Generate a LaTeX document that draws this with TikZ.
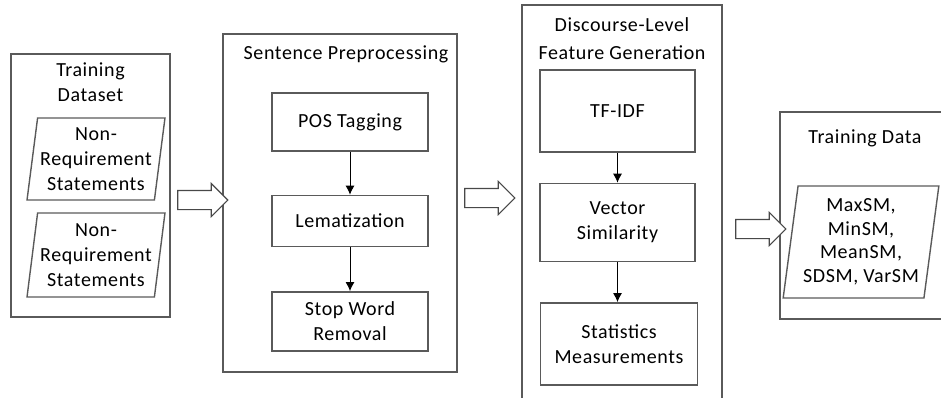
\documentclass[tikz,border=0pt]{standalone}
\usepackage{fontspec}
\setmainfont{Carlito}[LetterSpace=3]
\usetikzlibrary{positioning,shapes.geometric,shapes.arrows,arrows.meta}
\definecolor{boxgray}{RGB}{90,90,90}

\begin{document}
\begin{tikzpicture}[x=1pt,y=1pt,>={Latex[length=9pt,width=9pt]},
	font=\fontsize{20}{25}\selectfont,
	stage/.style={draw=boxgray,line width=1.1pt},
	title/.style={inner sep=0pt,align=center},
	task/.style={draw=boxgray,line width=1.4pt,minimum width=156pt,align=center,inner sep=2pt},
	datafile/.style={trapezium,trapezium left angle=81,trapezium right angle=99,trapezium stretches=true,draw=boxgray,line width=1.4pt,align=center,inner sep=1pt},
	bigarrow/.style={single arrow,draw=boxgray!80!black,fill=white,line width=1.1pt,minimum height=50pt,inner xsep=0pt,inner ysep=9pt,single arrow head extend=7pt}]
	
	\useasboundingbox (0,0) rectangle (941,397);
	\clip (0,0) rectangle (941,397);
	
	% stages
	\node[stage,minimum width=159pt,minimum height=263pt] (dataset) at (90.5,211.5) {};
	\node[stage,minimum width=234pt,minimum height=338pt] (prep) at (340,194) {};
	\node[stage,minimum width=200pt,minimum height=410pt] (feat) at (622,187) {};
	\node[stage,minimum width=200pt,minimum height=207pt] (train) at (880,181.5) {};
	
	\node[title,below=9pt of dataset.north] (dtitle) {Training\\Dataset};
	\node[title,below=12pt of prep.north,xshift=6pt] (ptitle) {Sentence Preprocessing};
	\node[title,below=13pt of feat.north,font=\fontsize{20}{28}\selectfont] (ftitle) {Discourse-Level\\Feature Generation};
	\node[title,below=18pt of train.north,xshift=-15pt] (ttitle) {Training Data};
	
	% input statements
	\node[datafile,minimum width=138pt,minimum height=82pt] (nr1) at (96,238) {Non-\\Requirement\\Statements};
	\node[datafile,minimum width=138pt,minimum height=84pt] (nr2) at (96,142) {Non-\\Requirement\\Statements};
	
	% preprocessing
	\node[task,minimum height=58pt] (pos) at (350,275) {POS Tagging};
	\node[task,minimum height=51pt,below=43pt of pos] (lem) {Lematization};
	\node[task,minimum height=59pt,below=44pt of lem] (stop) {Stop Word\\Removal};
	\draw[->,line width=1pt] (pos) -- (lem);
	\draw[->,line width=1pt] (lem) -- (stop);
	
	% features
	\node[task,minimum width=155pt,minimum height=82pt] (tfidf) at (617.5,286) {TF-IDF};
	\node[task,minimum width=155pt,minimum height=78pt,below=30pt of tfidf] (vsim) {Vector\\Similarity};
	\node[task,minimum width=157pt,minimum height=82pt,below=40pt of vsim,xshift=1.5pt] (stats) {Statistics\\Measurements};
	\draw[->,line width=1pt] (tfidf) -- (vsim);
	\draw[->,line width=1pt] (vsim.south) -- (vsim.south |- stats.north);
	
	% output
	\node[datafile,minimum width=156pt,minimum height=112pt,font=\fontsize{20}{23.5}\selectfont] (sm) at (861,155) {MaxSM,\\MinSM,\\MeanSM,\\SDSM, VarSM};
	
	% flow
	\node[bigarrow] (a1) at (198,197) {};
	\node[bigarrow] (a2) at (485,199) {};
	\node[bigarrow] (a3) at (756,168) {};
\end{tikzpicture}
\end{document}
